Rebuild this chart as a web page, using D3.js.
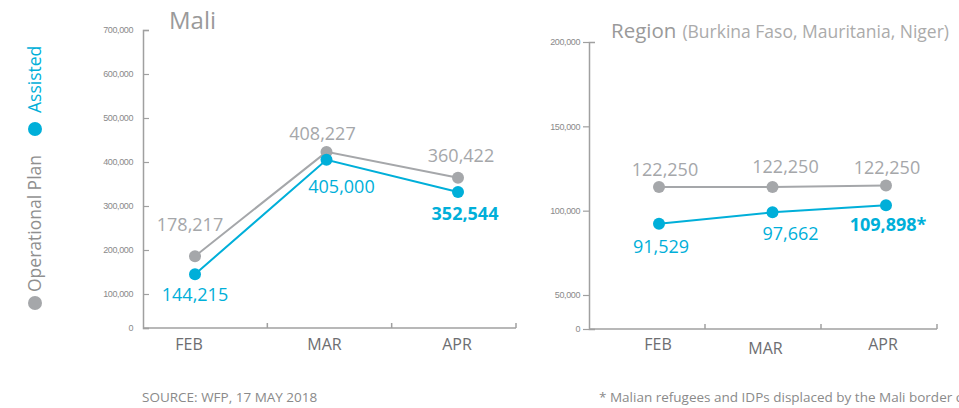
<!DOCTYPE html>
<html>
<head>
<meta charset="utf-8">
<script src="https://cdn.jsdelivr.net/npm/d3@7"></script>
<style>
  body { margin: 0; background: #fff; }
  svg { font-family: "Open Sans", sans-serif; }
</style>
</head>
<body>
<svg id="chart" width="959" height="408"></svg>
<script>
// data
var months = ["FEB", "MAR", "APR"];

// where the markers sit
var maliPlan = [186000, 423000, 364000];
var maliAssisted = [145000, 405000, 332000];
var regionPlan = [114100, 114100, 114900];
var regionAssisted = [92300, 99000, 103200];

// the printed values
var maliPlanLabels = ["178,217", "408,227", "360,422"];
var maliAssistedLabels = ["144,215", "405,000", "352,544"];
var regionPlanLabels = ["122,250", "122,250", "122,250"];
var regionAssistedLabels = ["91,529", "97,662", "109,898*"];

var maliTicks = [0, 100000, 200000, 300000, 400000, 500000, 600000, 700000];
var regionTicks = [0, 50000, 100000, 150000, 200000];

var GREY = "#a5a7aa";
var BLUE = "#00afd9";
var AXIS = "#a0a0a0";

var svg = d3.select("#chart");

function drawPanel(p) {

   var g = svg.append("g");

   var y = d3.scaleLinear().domain(p.yDomain).range(p.yRange);
   var band = d3.scaleBand().domain(months).range(p.bandRange);
   var x = d3.scalePoint().domain(months).range(p.pointRange);

   // y axis
   var yAxis = d3.axisLeft(y)
       .tickValues(p.ticks)
       .tickSize(p.tickSize)
       .tickSizeOuter(-6)
       .tickPadding(p.tickPadding)
       .tickFormat(d3.format(","));

   var ya = g.append("g")
       .attr("transform", "translate(" + p.bandRange[0] + ",0)")
       .call(yAxis);
   ya.select(".domain").attr("stroke", AXIS).attr("stroke-width", 1.5);
   ya.selectAll(".tick line").attr("stroke", AXIS).attr("stroke-width", 1.2);
   ya.selectAll(".tick text")
       .attr("fill", "#8a8a8a")
       .style("font-size", "9px")
       .style("letter-spacing", "-0.4px");

   // x axis: baseline with ticks between bands
   var baseY = p.yRange[0];
   g.append("line")
       .attr("x1", p.bandRange[0]).attr("x2", p.bandRange[1])
       .attr("y1", baseY).attr("y2", baseY)
       .attr("stroke", AXIS).attr("stroke-width", 1.5);

   g.selectAll(".xtick")
       .data(months)
       .enter().append("line")
       .attr("x1", function(d) { return band(d) + band.bandwidth(); })
       .attr("x2", function(d) { return band(d) + band.bandwidth(); })
       .attr("y1", baseY).attr("y2", baseY - 5)
       .attr("stroke", AXIS).attr("stroke-width", 1.5);

   g.selectAll(".month")
       .data(months)
       .enter().append("text")
       .attr("x", function(d, i) { return x(d) + p.monthDx[i]; })
       .attr("y", function(d, i) { return p.monthY + p.monthDy[i]; })
       .attr("text-anchor", "middle")
       .attr("fill", "#6d6e71")
       .style("font-size", "16px")
       .text(function(d) { return d; });

   // series
   var series = [
      { values: p.plan, labels: p.planLabels, color: GREY, nudge: p.planNudge, boldLast: false },
      { values: p.assisted, labels: p.assistedLabels, color: BLUE, nudge: p.assistedNudge, boldLast: true }
   ];

   var line = d3.line()
       .x(function(d, i) { return x(months[i]); })
       .y(function(d) { return y(d); });

   series.forEach(function(s) {
      g.append("path")
          .datum(s.values)
          .attr("d", line)
          .attr("fill", "none")
          .attr("stroke", s.color)
          .attr("stroke-width", 2);

      g.selectAll(null)
          .data(s.values)
          .enter().append("circle")
          .attr("cx", function(d, i) { return x(months[i]); })
          .attr("cy", function(d) { return y(d); })
          .attr("r", 6)
          .attr("fill", s.color);

      g.selectAll(null)
          .data(s.values)
          .enter().append("text")
          .attr("x", function(d, i) { return x(months[i]) + s.nudge[i][0]; })
          .attr("y", function(d, i) { return y(d) + s.nudge[i][1]; })
          .attr("text-anchor", "middle")
          .attr("fill", s.color)
          .style("font-size", "18px")
          .style("font-weight", function(d, i) { return (s.boldLast && i == s.values.length - 1) ? "bold" : "normal"; })
          .text(function(d, i) { return s.labels[i]; });
   });

   return g;
}

drawPanel({
   yDomain: [0, 100000, 700000], yRange: [328, 294, 30],
   ticks: maliTicks, tickSize: -6, tickPadding: 10,
   bandRange: [143, 516], pointRange: [195, 458],
   monthY: 350, monthDx: [-6, -2, -1], monthDy: [0, 0, 0],
   plan: maliPlan, planLabels: maliPlanLabels,
   planNudge: [[-5, -25], [-4, -12], [3, -16]],
   assisted: maliAssisted, assistedLabels: maliAssistedLabels,
   assistedNudge: [[0, 27], [15, 33], [7, 28]]
});

drawPanel({
   yDomain: [0, 50000, 200000], yRange: [329, 295, 42],
   ticks: regionTicks, tickSize: 6, tickPadding: 3,
   bandRange: [589, 937], pointRange: [659, 886],
   monthY: 350, monthDx: [-1, -7, -3], monthDy: [0, 4, 0],
   plan: regionPlan, planLabels: regionPlanLabels,
   planNudge: [[6, -11], [13, -14], [1, -12]],
   assisted: regionAssisted, assistedLabels: regionAssistedLabels,
   assistedNudge: [[2, 29], [18, 28], [2, 26]]
});

// titles
svg.append("text")
   .attr("x", 169).attr("y", 29)
   .attr("fill", "#9a9a9a")
   .style("font-size", "24px")
   .text("Mali");

var rt = svg.append("text")
   .attr("x", 611).attr("y", 38)
   .attr("fill", "#9a9a9a")
   .style("font-size", "20.5px")
   .text("Region");
rt.append("tspan")
   .attr("dx", 6)
   .attr("fill", "#ababab")
   .style("font-size", "17.5px")
   .text("(Burkina Faso, Mauritania, Niger)");

// rotated legend on the left
var legend = svg.append("g")
   .attr("transform", "translate(35,303) rotate(-90)");

legend.append("circle").attr("cx", 0).attr("cy", 0).attr("r", 7).attr("fill", GREY);
var opText = legend.append("text")
   .attr("x", 11).attr("y", 6)
   .attr("fill", "#8f8f8f")
   .style("font-size", "17.5px")
   .text("Operational Plan");

var afterOp = 11 + opText.node().getComputedTextLength();
legend.append("circle").attr("cx", afterOp + 26).attr("cy", 0).attr("r", 7).attr("fill", BLUE);
legend.append("text")
   .attr("x", afterOp + 42).attr("y", 6)
   .attr("fill", BLUE)
   .style("font-size", "17.5px")
   .text("Assisted");

// footer notes
svg.append("text")
   .attr("x", 142).attr("y", 402)
   .attr("fill", "#8a8a8a")
   .style("font-size", "13.5px")
   .text("SOURCE: WFP, 17 MAY 2018");

svg.append("text")
   .attr("x", 599).attr("y", 402)
   .attr("fill", "#8a8a8a")
   .style("font-size", "13.5px")
   .text("* Malian refugees and IDPs displaced by the Mali border crisis");
</script>
</body>
</html>
